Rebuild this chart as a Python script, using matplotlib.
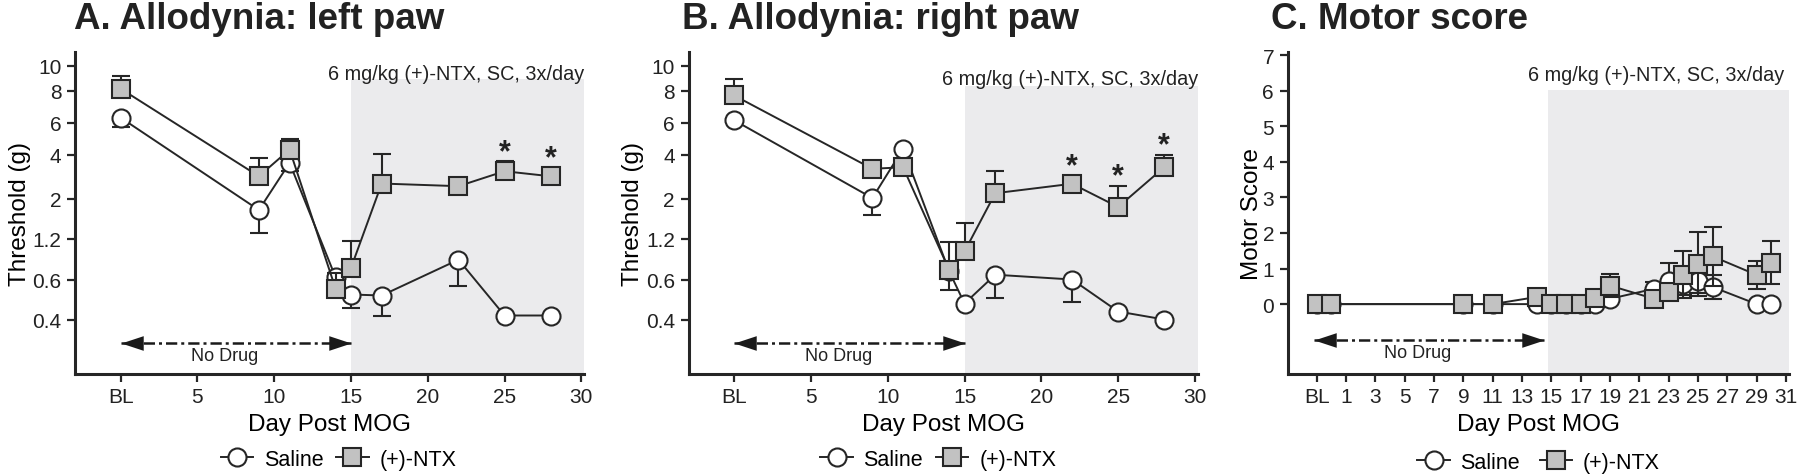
import numpy as np
import matplotlib
matplotlib.use("Agg")
import matplotlib.pyplot as plt
from matplotlib.lines import Line2D
from matplotlib.path import Path
from matplotlib.ticker import FixedLocator, FixedFormatter
import matplotlib.transforms as mtransforms

plt.rcParams['font.family'] = ['Liberation Sans', 'DejaVu Sans']

# ---------------- data ----------------
days_AB = [0, 9, 11, 14, 15, 17, 22, 25, 28]
xticks_AB = [0, 5, 10, 15, 20, 25, 30]
xticklabels_AB = ['BL', '5', '10', '15', '20', '25', '30']

# threshold axis tick values (g) and their spacing on the original axis
thr_ticks = [0.4, 0.6, 1.2, 2, 4, 6, 8, 10]
thr_tick_labels = ['0.4', '0.6', '1.2', '2', '4', '6', '8', '10']
thr_tick_spacing = [54, 94, 135, 175, 219, 251, 283, 308]

# Panel A (left paw)
A_saline = [6.3, 1.77, 3.62, 0.63, 0.525, 0.52, 0.89, 0.42, 0.42]
A_saline_err_dn = [0.55, 0.46, 0.38, 0.0, 0.065, 0.10, 0.32, 0.0, 0.0]
A_ntx = [8.14, 3.01, 4.31, 0.553, 0.77, 2.68, 2.56, 3.24, 3.01]
A_ntx_err_up = [1.0, 0.81, 0.67, 0.14, 0.39, 1.38, 0.0, 0.45, 0.0]
A_stars = [25, 28]

# Panel B (right paw)
B_saline = [6.14, 2.02, 4.36, 0.72, 0.48, 0.67, 0.60, 0.44, 0.40]
B_saline_err_dn = [0.0, 0.35, 0.0, 0.17, 0.0, 0.16, 0.11, 0.0, 0.0]
B_ntx = [7.69, 3.35, 3.42, 0.74, 1.01, 2.24, 2.67, 1.83, 3.42]
B_ntx_err_up = [1.2, 0.0, 0.0, 0.41, 0.5, 1.0, 0.0, 0.76, 0.57]
B_stars = [22, 25, 28]

# Panel C (motor score)
days_C = [-1, 0, 9, 11, 14, 15, 16, 17, 18, 19, 22, 23, 24, 25, 26, 29, 30]
C_saline = [0, 0, 0, 0, 0, 0, 0, 0, 0, 0.15, 0.43, 0.66, 0.57, 0.66, 0.48, 0, 0]
C_saline_err = [0, 0, 0, 0, 0, 0, 0, 0, 0, 0, 0.2, 0.5, 0.3, 0.35, 0.33, 0, 0]
C_ntx = [0, 0, 0, 0, 0.2, 0, 0, 0, 0.18, 0.52, 0.15, 0.34, 0.82, 1.13, 1.34, 0.82, 1.16]
C_ntx_err = [0, 0, 0, 0, 0, 0, 0, 0, 0, 0.33, 0, 0.2, 0.66, 0.9, 0.82, 0.4, 0.6]
xticks_C = [-1] + list(range(1, 32, 2))
xticklabels_C = ['BL'] + [str(v) for v in range(1, 32, 2)]
yticks_C = list(range(0, 8))

titles = ['A. Allodynia: left paw', 'B. Allodynia: right paw', 'C. Motor score']
drug_text = '6 mg/kg (+)-NTX, SC, 3x/day'
legend_labels = ['Saline', '(+)-NTX']

# ---------------- style ----------------
EDGE = '#262626'
SQ_FILL = '#c2c2c2'
SHADE = '#ebebed'
MS = 13
LW = 1.4

W, H = 1800, 477
fig = plt.figure(figsize=(W / 100, H / 100), dpi=100)

ax_top_px, ax_bot_px = 52.5, 374.5
ax_h = ax_bot_px - ax_top_px
lefts = [75.4, 688.8, 1288.0]
rights = [584.4, 1198.0, 1789.0]
axes = []
for l, r in zip(lefts, rights):
    axes.append(fig.add_axes([l / W, (H - ax_bot_px) / H, (r - l) / W, ax_h / H]))

# custom threshold scale built from tick spacing
ext_vals = np.array([0.0] + thr_ticks + [12.0])
ext_pos = np.array([thr_tick_spacing[0] - 0.4 * 200] + thr_tick_spacing +
                   [thr_tick_spacing[-1] + 2 * 12.5])


def fwd(v):
    return np.interp(v, ext_vals, ext_pos)


def inv(t):
    return np.interp(t, ext_pos, ext_vals)


def style_axes(ax):
    for s in ['top', 'right']:
        ax.spines[s].set_visible(False)
    for s in ['left', 'bottom']:
        ax.spines[s].set_linewidth(2.2)
        ax.spines[s].set_color(EDGE)
    ax.tick_params(axis='both', direction='out', length=6, width=1.6,
                   color=EDGE, labelsize=15, pad=4, labelcolor='#222222')
    ax.set_facecolor('none')


def draw_series(ax, x, s, s_lo, s_hi, n, n_lo, n_hi):
    ax.errorbar(x, s, yerr=[s_lo, s_hi], fmt='none', ecolor=EDGE,
                elinewidth=1.5, capsize=6.5, capthick=1.5, zorder=3)
    ax.plot(x, s, '-', color=EDGE, lw=LW, marker='o', ms=MS, mfc='white',
            mec=EDGE, mew=1.5, zorder=4)
    ax.errorbar(x, n, yerr=[n_lo, n_hi], fmt='none', ecolor=EDGE,
                elinewidth=1.5, capsize=6.5, capthick=1.5, zorder=5)
    ax.plot(x, n, '-', color=EDGE, lw=LW, marker='s', ms=MS, mfc=SQ_FILL,
            mec=EDGE, mew=1.5, zorder=6)


HEAD_L = Path([[0, 0], [1, 0.33], [1, -0.33], [0, 0]],
              [Path.MOVETO, Path.LINETO, Path.LINETO, Path.CLOSEPOLY])
HEAD_R = Path([[0, 0], [-1, 0.33], [-1, -0.33], [0, 0]],
              [Path.MOVETO, Path.LINETO, Path.LINETO, Path.CLOSEPOLY])


def no_drug(ax, x0, x1, xt, ya, yt):
    tr = mtransforms.blended_transform_factory(ax.transData, ax.transAxes)
    ax.plot([x0, x1], [ya, ya], transform=tr, color='#1a1a1a', lw=1.8,
            ls=(0, (4.5, 1.6, 1.2, 1.6)), zorder=7, solid_capstyle='butt')
    ax.plot([x0], [ya], transform=tr, marker=HEAD_L, ms=32, color='#1a1a1a',
            mew=0, zorder=8)
    ax.plot([x1], [ya], transform=tr, marker=HEAD_R, ms=32, color='#1a1a1a',
            mew=0, zorder=8)
    ax.text(xt, yt, 'No Drug', transform=tr, ha='center', va='center',
            fontsize=13, color='#222222')


handles = [
    Line2D([], [], color=EDGE, lw=LW, marker='o', ms=MS, mfc='white', mec=EDGE, mew=1.5),
    Line2D([], [], color=EDGE, lw=LW, marker='s', ms=MS, mfc=SQ_FILL, mec=EDGE, mew=1.5),
]

shade_tops = [0.916, 0.893, 0.881]
text_ys = [0.931, 0.916, 0.929]
title_x = [74, 682, 1271]
legend_cx = [0.517, 0.49, 0.50]
ylabel_x = [-0.088, -0.087, -0.05]

# ---- Panels A and B ----
for i, (sal, sal_dn, ntx, ntx_up, stars) in enumerate([
        (A_saline, A_saline_err_dn, A_ntx, A_ntx_err_up, A_stars),
        (B_saline, B_saline_err_dn, B_ntx, B_ntx_err_up, B_stars)]):
    ax = axes[i]
    style_axes(ax)
    ax.set_yscale('function', functions=(fwd, inv))
    ax.set_xlim(-2.95, 30.2)
    ax.set_ylim(inv(0.0), inv(ax_h))
    ax.axvspan(15, 30.2, ymin=0, ymax=shade_tops[i], color=SHADE, lw=0, zorder=0)
    zeros = [0.0] * len(sal)
    draw_series(ax, days_AB, sal, sal_dn, zeros, ntx, zeros, ntx_up)
    ax.yaxis.set_major_locator(FixedLocator(thr_ticks))
    ax.yaxis.set_major_formatter(FixedFormatter(thr_tick_labels))
    ax.yaxis.set_minor_locator(FixedLocator([]))
    ax.set_xticks(xticks_AB)
    ax.set_xticklabels(xticklabels_AB)
    ax.set_ylabel('Threshold (g)', fontsize=17.5)
    ax.yaxis.set_label_coords(ylabel_x[i], 0.5)
    ax.set_xlabel('Day Post MOG', fontsize=17.5, labelpad=5)
    ax.text(1.0, text_ys[i], drug_text, transform=ax.transAxes, ha='right',
            va='center', fontsize=14.3, color='#222222')
    # significance stars above the NTX points
    for d in stars:
        j = days_AB.index(d)
        top_t = max(fwd(ntx[j]) + 9, fwd(ntx[j] + ntx_up[j]))
        ax.text(d, inv(top_t + 1), '*', ha='center', va='baseline',
                fontsize=22, fontweight='bold', color='#222222', zorder=8)
    no_drug(ax, 0, 15, 6.8, 0.0956, 0.056)
    ax.legend(handles, legend_labels, loc='center', ncol=2, frameon=False,
              bbox_to_anchor=(legend_cx[i], -0.266), bbox_transform=ax.transAxes,
              fontsize=15.5, handlelength=1.5, handletextpad=0.5, columnspacing=0.6)

# ---- Panel C ----
ax = axes[2]
style_axes(ax)
ax.set_xlim(-2.95, 31.2)
ax.set_ylim(-1.95, 7.1)
ax.axvspan(14.8, 31.2, ymin=0, ymax=shade_tops[2], color=SHADE, lw=0, zorder=0)
draw_series(ax, days_C, C_saline, C_saline_err, C_saline_err,
            C_ntx, C_ntx_err, C_ntx_err)
ax.set_yticks(yticks_C)
ax.set_xticks(xticks_C)
ax.set_xticklabels(xticklabels_C)
ax.set_ylabel('Motor Score', fontsize=17.5)
ax.yaxis.set_label_coords(ylabel_x[2], 0.5)
ax.set_xlabel('Day Post MOG', fontsize=17.5, labelpad=5)
ax.text(0.99, text_ys[2], drug_text, transform=ax.transAxes, ha='right',
        va='center', fontsize=14.3, color='#222222')
no_drug(ax, -1.2, 14.5, 5.9, 0.103, 0.064)
ax.legend(handles, legend_labels, loc='center', ncol=2, frameon=False,
          bbox_to_anchor=(legend_cx[2], -0.275), bbox_transform=ax.transAxes,
          fontsize=15.5, handlelength=1.5, handletextpad=0.5, columnspacing=0.9)

# ---- titles ----
for tx, t in zip(title_x, titles):
    fig.text(tx / W, (H - 29) / H, t, ha='left', va='baseline',
             fontsize=26.5, fontweight='bold', color='#222222')

fig.savefig('out.png', dpi=100)
